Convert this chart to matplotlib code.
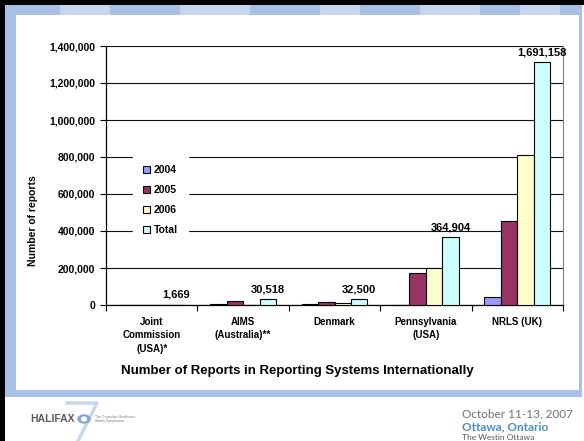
import matplotlib.pyplot as plt
import matplotlib.patches as mpatches
from matplotlib.lines import Line2D
from matplotlib.ticker import FuncFormatter, FixedLocator
import numpy as np

plt.rcParams['font.family'] = ['Liberation Sans', 'DejaVu Sans']

# dati
categories = ['Joint\nCommission\n(USA)*', 'AIMS\n(Australia)**', 'Denmark',
              'Pennsylvania\n(USA)', 'NRLS (UK)']
series_names = ['2004', '2005', '2006', 'Total']
val_2004 = [0, 6000, 4000, 0, 45000]
val_2005 = [0, 20000, 15000, 171000, 454000]
val_2006 = [0, 0, 12000, 198000, 810000]
val_total = [1669, 30518, 32500, 364904, 1312000]
total_labels = ['1,669', '30,518', '32,500', '364,904', '1,691,158']
colors = ['#9999FF', '#993366', '#FFFFCC', '#CCFFFF']

W, H = 584, 441
fig = plt.figure(figsize=(W / 100, H / 100), dpi=100)


def fx(px):
    return px / W


def fy(py):
    return 1 - py / H


def rect_px(x0, y0, x1, y1, color, z):
    # rettangolo in pixel (origine in alto a sinistra)
    r = mpatches.Rectangle((fx(x0), fy(y1)), (x1 - x0) / W, (y1 - y0) / H,
                           transform=fig.transFigure, color=color, zorder=z,
                           linewidth=0)
    fig.add_artist(r)


# cornice della slide
rect_px(5, 5, 582, 397, '#A9C1E6', -10)
for x0, w0 in [(60, 50), (180, 70), (320, 40), (420, 60), (520, 40)]:
    rect_px(x0, 5, x0 + w0, 15, '#C6D6EF', -9)
rect_px(16, 15, 579, 390, 'white', -8)
rect_px(0, 0, 5, H, 'black', -7)
rect_px(0, 0, W, 5, 'black', -7)

ax = fig.add_axes([fx(106), fy(305), fx(563 - 106), (305 - 46) / H])
ax.set_facecolor('none')
ax.set_zorder(1)

x = np.arange(len(categories))
bw = 0.18
all_vals = [val_2004, val_2005, val_2006, val_total]
for i, (vals, name, col) in enumerate(zip(all_vals, series_names, colors)):
    ax.bar(x + (i - 1.5) * bw, vals, bw, color=col, edgecolor='black',
           linewidth=0.8, label=name, zorder=3)

for xi, v, lab in zip(x, val_total, total_labels):
    ax.annotate(lab, (xi + 1.5 * bw, v), xytext=(0, 3.5), textcoords='offset points',
                ha='center', va='bottom', fontsize=8, fontweight='bold', zorder=5)

ax.set_xlim(-0.5, len(categories) - 0.5)
ax.set_ylim(0, 1400000)
ax.set_yticks(np.arange(0, 1400001, 200000))
ax.yaxis.set_major_formatter(FuncFormatter(lambda v, p: f'{int(v):,}'))
ax.yaxis.grid(True, color='#111111', linewidth=0.8, zorder=1)
ax.set_axisbelow(True)

ax.set_xticks(x)
ax.set_xticklabels(categories, fontsize=7, fontweight='bold', linespacing=1.45)
ax.xaxis.set_minor_locator(FixedLocator(np.arange(-0.5, len(categories), 1.0)))
ax.tick_params(axis='x', which='major', length=0, pad=8.5)
ax.tick_params(axis='x', which='minor', length=4, width=0.8, direction='out')
ax.tick_params(axis='y', length=4, width=0.8, pad=4, labelsize=7.5)
for t in ax.get_yticklabels():
    t.set_fontweight('bold')

ax.spines['left'].set_linewidth(0.9)
ax.spines['bottom'].set_linewidth(0.9)
ax.spines['top'].set_visible(False)
ax.spines['right'].set_color('#808080')
ax.spines['right'].set_linewidth(0.8)

ylab = ax.set_ylabel('Number of reports', fontsize=7.5, fontweight='bold')
ylab.set_va('center')
ax.yaxis.set_label_coords(fx(33), 0.5, transform=fig.transFigure)

leg = ax.legend(loc='upper left', bbox_to_anchor=(fx(133), fy(155)),
                bbox_transform=fig.transFigure, fontsize=7.5, frameon=True,
                fancybox=False, edgecolor='white', framealpha=1,
                handlelength=0.6, handleheight=0.6, handletextpad=0.4,
                labelspacing=0.95, borderpad=1.0, borderaxespad=0)
leg.set_zorder(6)
for t in leg.get_texts():
    t.set_fontweight('bold')

fig.text(fx(297.5), fy(371), 'Number of Reports in Reporting Systems Internationally',
         ha='center', va='center', fontsize=9.5, fontweight='bold')

# piè di pagina
fig.add_artist(Line2D([fx(67), fx(97), fx(78)], [fy(403), fy(403), fy(441)],
                      color='#C8D6EA', linewidth=2.5, zorder=1))
fig.text(fx(30), fy(419), 'HALIFAX', ha='left', va='center', fontsize=7.5,
         fontweight='bold', color='#5A5A5A', zorder=3)
fig.add_artist(mpatches.Ellipse((fx(84), fy(419)), fx(12), 8 / H, transform=fig.transFigure,
                                color='#7FA6D6', zorder=3))
fig.add_artist(mpatches.Ellipse((fx(84), fy(419)), fx(5), 4 / H, transform=fig.transFigure,
                                color='white', zorder=4))
fig.text(fx(95), fy(419), 'The Canadian Healthcare\nSafety Symposium', ha='left', va='center',
         fontsize=2.5, color='#777777', linespacing=1.0)

fig.text(fx(462), fy(414), 'October 11-13, 2007', ha='left', va='center',
         fontsize=8.5, color='#707070', family=['Lato', 'DejaVu Sans'])
fig.text(fx(462), fy(427), 'Ottawa, Ontario', ha='left', va='center',
         fontsize=8.5, fontweight='bold', color='#4A8CCB', family=['Lato', 'DejaVu Sans'])
fig.text(fx(462), fy(437), 'The Westin Ottawa', ha='left', va='center',
         fontsize=6, color='#555555', family=['Lato', 'DejaVu Sans'])

fig.savefig('out.png', dpi=100)
